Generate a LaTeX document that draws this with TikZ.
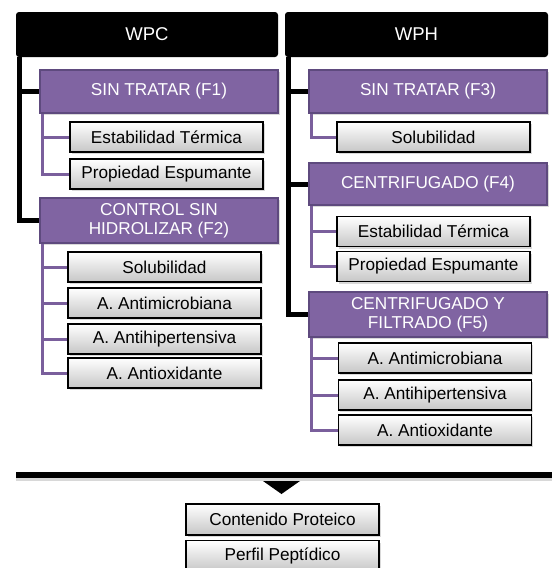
\documentclass[tikz,border=0pt]{standalone}
\usepackage{fontspec}
\setmainfont{Liberation Sans}
\usetikzlibrary{shadows}
\definecolor{pur}{HTML}{8064A2}
\definecolor{purdark}{HTML}{5E4A7E}
\definecolor{twigc}{HTML}{7A5F9C}
\definecolor{itembot}{HTML}{C6C6C6}
\begin{document}
\begin{tikzpicture}[x=1pt,y=-1pt,
  hdr/.style={fill=black,text=white,rounded corners=3pt,minimum height=45,
    font=\fontsize{18.5}{21}\selectfont,inner sep=0pt},
  grp/.style={fill=pur,draw=purdark,line width=2,text=white,align=center,
    minimum width=238,inner sep=0pt,font=\fontsize{17.2}{19}\selectfont,
    drop shadow={shadow xshift=1.5pt,shadow yshift=-2pt,opacity=.3}},
  item/.style={draw=black,line width=1.2,top color=white,bottom color=itembot,
    minimum width=193,minimum height=30,inner sep=0pt,
    font=\fontsize{17.2}{19}\selectfont,
    drop shadow={shadow xshift=1.5pt,shadow yshift=-2pt,opacity=.3}},
  trunk/.style={line width=5,black},
  twig/.style={line width=3,twigc}]
\useasboundingbox (0,0) rectangle (552,568);
% headers
\node[hdr,minimum width=262] (wpc) at (147,34.5) {WPC};
\node[hdr,minimum width=263] (wph) at (416.5,34.5) {WPH};
% twigs (drawn first, under boxes)
\coordinate (t1) at (43,113);
\coordinate (t2) at (43,243);
\coordinate (t3) at (312,113);
\coordinate (t4) at (312,205);
\coordinate (t5) at (312,337);
% WPC groups
\node[grp,minimum height=43] (f1) at (159,91.5) {SIN TRATAR (F1)};
\node[item] (f1a) at (166.5,137) {Estabilidad Térmica};
\node[item] (f1b) at (166.5,174) {Propiedad Espumante};
\node[grp,minimum height=45] (f2) at (159,220.5) {CONTROL SIN\\HIDROLIZAR (F2)};
\node[item] (f2a) at (164.5,267) {Solubilidad};
\node[item] (f2b) at (164.5,303) {A. Antimicrobiana};
\node[item] (f2c) at (164.5,339) {A. Antihipertensiva};
\node[item] (f2d) at (164.5,373) {A. Antioxidante};
% WPH groups
\node[grp,minimum height=43] (f3) at (428,91.5) {SIN TRATAR (F3)};
\node[item] (f3a) at (433.5,137) {Solubilidad};
\node[grp,minimum height=42] (f4) at (428,184) {CENTRIFUGADO (F4)};
\node[item] (f4a) at (433.5,231.5) {Estabilidad Térmica};
\node[item] (f4b) at (433.5,266.5) {Propiedad Espumante};
\node[grp,minimum height=45] (f5) at (428,314.5) {CENTRIFUGADO Y\\FILTRADO (F5)};
\node[item] (f5a) at (435,358) {A. Antimicrobiana};
\node[item] (f5b) at (435,395) {A. Antihipertensiva};
\node[item] (f5c) at (435,430) {A. Antioxidante};
% bottom
\node[item,minimum height=31] (cp) at (282.5,519.5) {Contenido Proteico};
\node[item,minimum height=31] (pp) at (282.5,556) {Perfil Peptídico};
% trunks
\draw[trunk] ([xshift=3.5]wpc.south west) |- (f1.west);
\draw[trunk] ([xshift=3.5]wpc.south west) |- (f2.west);
\draw[trunk] ([xshift=3.5]wph.south west) |- (f3.west);
\draw[trunk] ([xshift=3.5]wph.south west) |- (f4.west);
\draw[trunk] ([xshift=3.5]wph.south west) |- (f5.west);
% twigs
\draw[twig] ([xshift=3]f1.south west) |- (f1a.west);
\draw[twig] ([xshift=3]f1.south west) |- (f1b.west);
\draw[twig] ([xshift=3]f2.south west) |- (f2a.west);
\draw[twig] ([xshift=3]f2.south west) |- (f2b.west);
\draw[twig] ([xshift=3]f2.south west) |- (f2c.west);
\draw[twig] ([xshift=3]f2.south west) |- (f2d.west);
\draw[twig] ([xshift=3]f3.south west) |- (f3a.west);
\draw[twig] ([xshift=3]f4.south west) |- (f4a.west);
\draw[twig] ([xshift=3]f4.south west) |- (f4b.west);
\draw[twig] ([xshift=3]f5.south west) |- (f5a.west);
\draw[twig] ([xshift=3]f5.south west) |- (f5b.west);
\draw[twig] ([xshift=3]f5.south west) |- (f5c.west);
% bottom bar and arrow
\coordinate (barl) at (16,475);
\coordinate (barr) at (552,475);
\fill[black!30,opacity=.5] ([yshift=-3]barl) rectangle ([yshift=-6]barr);
\draw[line width=6] (barl) -- (barr);
\fill[black] (263,481) -- (300,481) -- (281.5,494) -- cycle;
\end{tikzpicture}
\end{document}
